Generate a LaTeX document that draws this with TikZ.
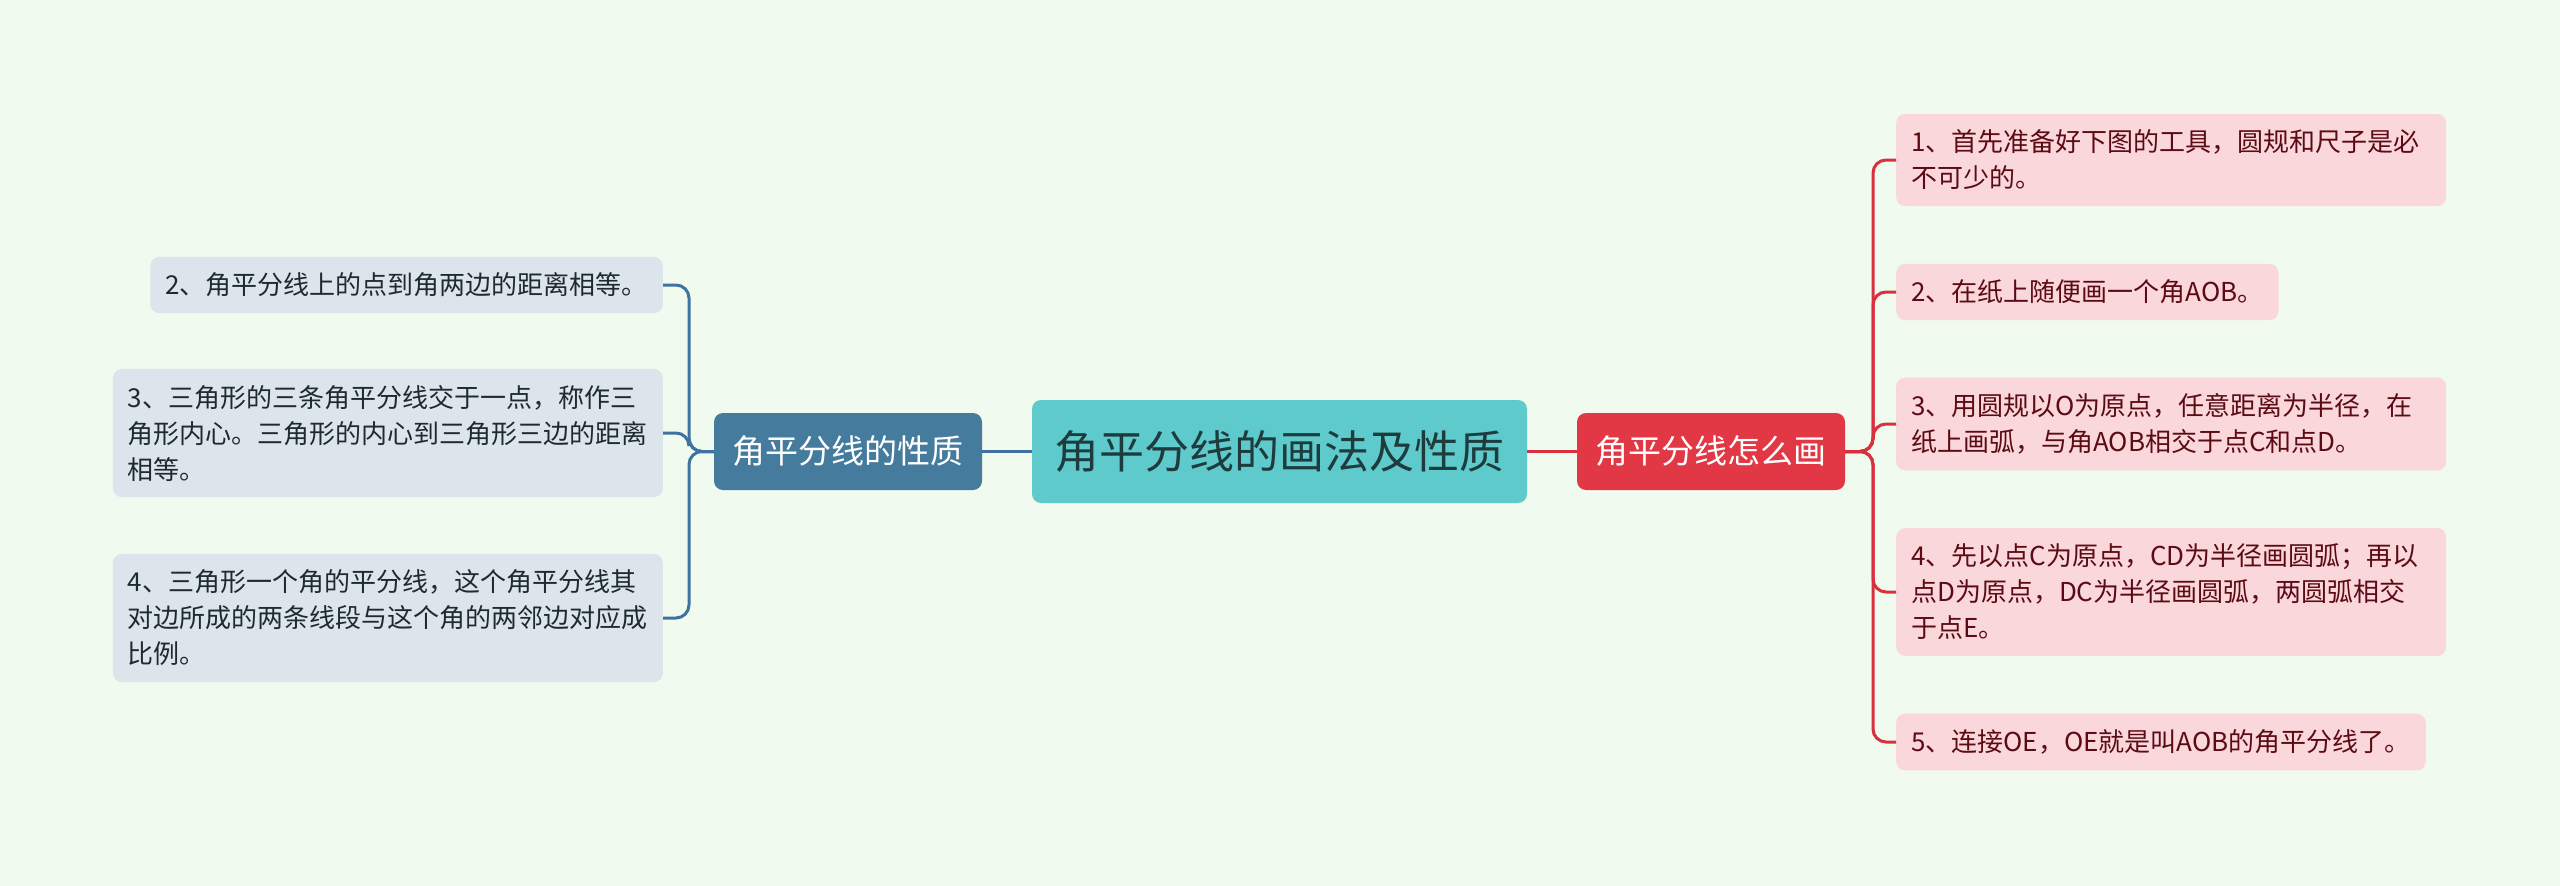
\documentclass[tikz,border=0pt]{standalone}
\usepackage{fontspec}
\setmainfont{Noto Sans CJK SC}
\usetikzlibrary{positioning}
\definecolor{bgc}{RGB}{240,250,238}
\definecolor{cfill}{RGB}{95,202,203}
\definecolor{ctext}{RGB}{30,59,61}
\definecolor{rfill}{RGB}{226,55,68}
\definecolor{lfill}{RGB}{69,123,157}
\definecolor{rleaf}{RGB}{250,215,219}
\definecolor{lleaf}{RGB}{220,229,235}
\definecolor{rtext}{RGB}{92,11,20}
\definecolor{ltext}{RGB}{31,42,48}
\definecolor{rline}{RGB}{217,48,63}
\definecolor{lline}{RGB}{63,114,160}
\tikzset{
  centerbox/.style={fill=cfill, text=ctext, rounded corners=9pt, minimum width=495pt, minimum height=103pt, inner sep=0pt, font=\fontsize{45}{54}\selectfont},
  mainbox/.style={rounded corners=9pt, minimum width=268pt, minimum height=77pt, inner sep=0pt, text=white, font=\fontsize{33}{40}\selectfont},
  leafbox/.style={rounded corners=9pt, align=left, inner xsep=15pt, inner ysep=16pt, font=\fontsize{26}{36}\selectfont},
  rleafbox/.style={leafbox, fill=rleaf, text=rtext},
  lleafbox/.style={leafbox, fill=lleaf, text=ltext},
  rconn/.style={draw=rline, line width=3pt, rounded corners=13pt},
  lconn/.style={draw=lline, line width=3pt, rounded corners=13pt},
}
\begin{document}
\begin{tikzpicture}[x=1pt, y=-1pt]
\useasboundingbox (0,0) rectangle (2560,886);
\fill[bgc] (0,0) rectangle (2560,886);

\node[centerbox] (c) at (1279.5,451.5) {角平分线的画法及性质};
\node[mainbox, fill=rfill] (rm) at (1711,451.5) {角平分线怎么画};
\node[mainbox, fill=lfill] (lm) at (848,451.5) {角平分线的性质};

% right leaves
\node[rleafbox, anchor=west, text width=520pt] (r1) at (1896,160) {1、首先准备好下图的工具，圆规和尺子是必\\不可少的。};
\node[rleafbox, anchor=west] (r2) at (1896,292) {2、在纸上随便画一个角AOB。};
\node[rleafbox, anchor=west, text width=520pt] (r3) at (1896,424) {3、用圆规以O为原点，任意距离为半径，在\\纸上画弧，与角AOB相交于点C和点D。};
\node[rleafbox, anchor=west, text width=520pt] (r4) at (1896,592) {4、先以点C为原点，CD为半径画圆弧；再以\\点D为原点，DC为半径画圆弧，两圆弧相交\\于点E。};
\node[rleafbox, anchor=west] (r5) at (1896,742) {5、连接OE，OE就是叫AOB的角平分线了。};

% left leaves
\node[lleafbox, anchor=east] (l2) at (663,285) {2、角平分线上的点到角两边的距离相等。};
\node[lleafbox, anchor=east, text width=520pt] (l3) at (663,433) {3、三角形的三条角平分线交于一点，称作三\\角形内心。三角形的内心到三角形三边的距离\\相等。};
\node[lleafbox, anchor=east, text width=520pt] (l4) at (663,618) {4、三角形一个角的平分线，这个角平分线其\\对边所成的两条线段与这个角的两邻边对应成\\比例。};

\coordinate (rt) at (1873,451.5);
\coordinate (lt) at (689,451.5);

\draw[rconn] (c.east) -- (rm.west);
\draw[lconn] (c.west) -- (lm.east);

\foreach \n in {r1,r2,r3,r4,r5}{
  \draw[rconn] (rm.east) -- (rt) |- (\n.west);
}
\foreach \n in {l2,l3,l4}{
  \draw[lconn] (lm.west) -- (lt) |- (\n.east);
}
\end{tikzpicture}
\end{document}
